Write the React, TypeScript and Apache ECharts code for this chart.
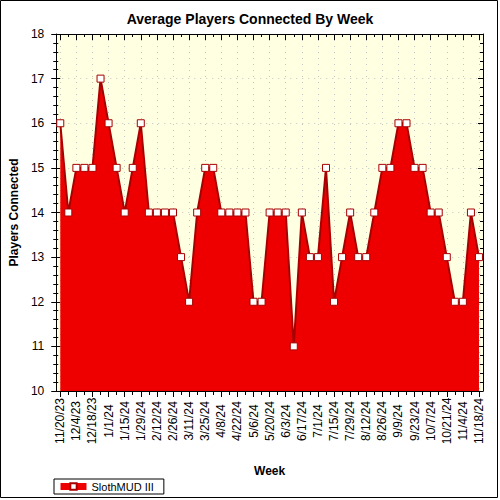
import React, { useEffect, useRef } from "react";
import * as echarts from "echarts";

const weeks: string[] = [
  "11/20/23", "11/27/23", "12/4/23", "12/11/23", "12/18/23", "12/25/23",
  "1/1/24", "1/8/24", "1/15/24", "1/22/24", "1/29/24", "2/5/24", "2/12/24",
  "2/19/24", "2/26/24", "3/4/24", "3/11/24", "3/18/24", "3/25/24", "4/1/24",
  "4/8/24", "4/15/24", "4/22/24", "4/29/24", "5/6/24", "5/13/24", "5/20/24",
  "5/27/24", "6/3/24", "6/10/24", "6/17/24", "6/24/24", "7/1/24", "7/8/24",
  "7/15/24", "7/22/24", "7/29/24", "8/5/24", "8/12/24", "8/19/24", "8/26/24",
  "9/2/24", "9/9/24", "9/16/24", "9/23/24", "9/30/24", "10/7/24", "10/14/24",
  "10/21/24", "10/28/24", "11/4/24", "11/11/24", "11/18/24",
];

const players: number[] = [
  16, 14, 15, 15, 15, 17, 16, 15, 14, 15,
  16, 14, 14, 14, 14, 13, 12, 14, 15, 15,
  14, 14, 14, 14, 12, 12, 14, 14, 14, 11,
  14, 13, 13, 15, 12, 13, 14, 13, 13, 14,
  15, 15, 16, 16, 15, 15, 14, 14, 13, 12,
  12, 14, 13,
];

const seriesName = "SlothMUD III";
const FONT = "'Liberation Sans', Arial, sans-serif";

export default function App() {
  const ref = useRef<HTMLDivElement>(null);
  useEffect(() => {
    if (!ref.current) return;
    const chart = echarts.init(ref.current, null, { renderer: "svg" });
    const gridLine = { show: true, lineStyle: { color: "#c4c4c4", type: [1, 5] as any, width: 1 } };
    const hiddenX = (pos: string, len: number, interval: number, inside: boolean) => ({
      type: "category",
      data: weeks,
      position: pos,
      boundaryGap: true,
      axisLine: { show: false },
      axisLabel: { show: false },
      splitLine: { show: false },
      axisTick: { show: true, interval, alignWithLabel: true, length: len, inside, lineStyle: { color: "#000" } },
    });
    chart.setOption({
      animation: false,
      backgroundColor: "#fff",
      textStyle: { fontFamily: FONT },
      title: {
        text: "Average Players Connected By Week",
        left: "center",
        top: 7,
        textStyle: { fontSize: 14, fontWeight: "bold", color: "#000", fontFamily: FONT },
      },
      legend: {
        left: 54,
        top: 479,
        orient: "horizontal",
        selectedMode: false,
        borderColor: "#000",
        borderWidth: 1,
        borderRadius: 0,
        padding: [2, 10, 2, 3],
        itemWidth: 26,
        itemHeight: 8,
        itemGap: 4,
        lineStyle: { width: 7, color: "#EE0000" },
        textStyle: { fontSize: 11, color: "#000", fontFamily: FONT },
        data: [seriesName],
      },
      grid: { left: 55, right: 17, top: 34, bottom: 109, show: true, backgroundColor: "#FFFFE2", borderWidth: 0 },
      xAxis: [
        {
          type: "category",
          data: weeks,
          position: "bottom",
          boundaryGap: true,
          name: "Week",
          nameLocation: "middle",
          nameGap: 74,
          nameTextStyle: { fontSize: 12, fontWeight: "bold", color: "#000", fontFamily: FONT },
          axisLine: { show: true, lineStyle: { color: "#000", width: 1 } },
          axisTick: { show: true, interval: 1, alignWithLabel: true, length: 6, lineStyle: { color: "#000" } },
          axisLabel: {
            interval: 1,
            rotate: 90,
            align: "center",
            verticalAlign: "middle",
            margin: 30,
            fontSize: 12,
            color: "#000",
            fontFamily: FONT,
          },
          splitLine: { ...gridLine, interval: 1, alignWithLabel: true },
        },
        hiddenX("bottom", 4, 0, false),
        {
          ...hiddenX("top", 6, 1, true),
          axisLine: { show: true, lineStyle: { color: "#000", width: 1 } },
        },
        hiddenX("top", 3, 0, true),
      ],
      yAxis: [
        {
          type: "value",
          position: "left",
          min: 10,
          max: 18,
          interval: 1,
          name: "Players Connected",
          nameLocation: "middle",
          nameGap: 36,
          nameTextStyle: { fontSize: 12, fontWeight: "bold", color: "#000", fontFamily: FONT },
          axisLine: { show: true, lineStyle: { color: "#000", width: 1 } },
          axisTick: { show: true, length: 5, lineStyle: { color: "#000" } },
          minorTick: { show: true, splitNumber: 5, length: 3, lineStyle: { color: "#000" } },
          axisLabel: { fontSize: 12, color: "#000", margin: 12, fontFamily: FONT },
          splitLine: gridLine,
        },
        {
          type: "value",
          position: "left",
          min: 10,
          max: 18,
          interval: 1,
          axisLine: { show: false },
          axisLabel: { show: false },
          splitLine: { show: false },
          axisTick: { show: true, inside: true, length: 4, lineStyle: { color: "#000" } },
          minorTick: { show: true, splitNumber: 5, length: 2, lineStyle: { color: "#000" } },
        },
        {
          type: "value",
          position: "right",
          min: 10,
          max: 18,
          interval: 1,
          axisLine: { show: true, lineStyle: { color: "#000", width: 1 } },
          axisLabel: { show: false },
          splitLine: { show: false },
          axisTick: { show: true, inside: true, length: 5, lineStyle: { color: "#000" } },
          minorTick: { show: true, splitNumber: 5, length: 3, lineStyle: { color: "#000" } },
        },
      ],
      series: [
        {
          name: seriesName,
          type: "line",
          xAxisIndex: 0,
          yAxisIndex: 0,
          data: players,
          symbol: "rect",
          symbolSize: 7,
          showAllSymbol: true,
          lineStyle: { color: "#A80000", width: 2 },
          itemStyle: { color: "#ffffff", borderColor: "#A80000", borderWidth: 1 },
          areaStyle: { color: "#EE0000", opacity: 1, origin: "start" },
          z: 3,
        },
      ],
      graphic: [
        {
          type: "rect",
          shape: { x: 0.5, y: 0.5, width: 497, height: 497 },
          style: { fill: "none", stroke: "#000", lineWidth: 1 },
          silent: true,
          z: 100,
        },
      ],
    });
    return () => chart.dispose();
  }, []);
  return (
    <div
      ref={ref}
      style={{ position: "fixed", left: 0, top: 0, width: 500, height: 500 }}
    />
  );
}
